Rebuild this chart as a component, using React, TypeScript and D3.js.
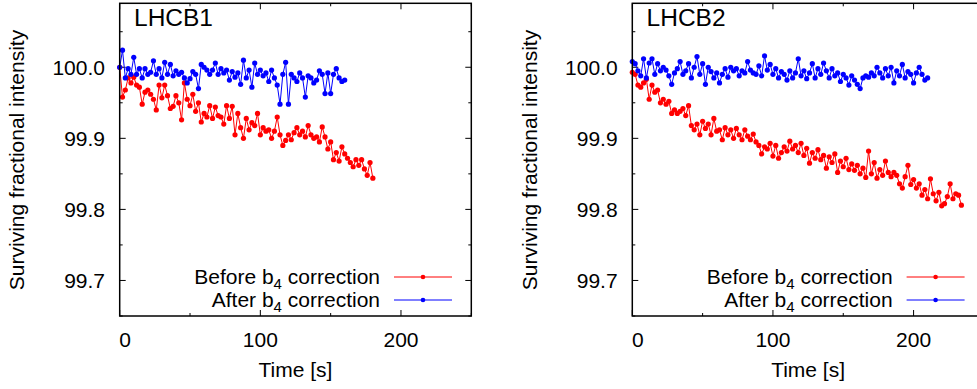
import React from "react";
import * as d3 from "d3";

const SAMPLE_STEP = 2; // seconds between measurements

const lhcb1Before = [
  100.0, 99.958, 99.968, 99.985, 99.978, 99.986, 99.975, 99.972, 99.948, 99.965,
  99.968, 99.962, 99.955, 99.94, 99.975, 99.957, 99.975, 99.96, 99.942, 99.945,
  99.96, 99.95, 99.926, 99.978, 99.955, 99.946, 99.962, 99.938, 99.95, 99.923,
  99.935, 99.93, 99.946, 99.928, 99.944, 99.932, 99.93, 99.92, 99.946, 99.928,
  99.945, 99.905, 99.935, 99.915, 99.9, 99.928, 99.912, 99.922, 99.918, 99.935,
  99.905, 99.915, 99.91, 99.912, 99.9, 99.91, 99.93, 99.905, 99.89, 99.897,
  99.905, 99.898, 99.908, 99.915, 99.905, 99.91, 99.902, 99.918, 99.905, 99.9,
  99.902, 99.895, 99.916, 99.902, 99.885, 99.895, 99.87, 99.88, 99.868, 99.888,
  99.878, 99.872, 99.866, 99.86, 99.87, 99.862, 99.87, 99.857, 99.848, 99.866,
  99.844,
];

const lhcb1After = [
  100.0, 100.024, 99.985, 99.998, 99.99, 100.014, 99.99, 99.998, 99.985, 99.998,
  99.99, 99.993, 100.009, 99.99, 99.998, 99.985, 100.007, 99.99, 100.004, 99.988,
  99.995, 99.99, 99.993, 99.985, 99.978, 99.984, 99.994, 99.99, 99.97, 100.004,
  100.0, 99.996, 99.99, 99.996, 100.006, 99.99, 99.998, 99.992, 99.996, 99.982,
  99.994, 99.986, 99.992, 99.976, 100.01, 99.985, 99.996, 99.972, 100.006, 99.99,
  99.996, 99.988, 99.992, 99.98, 99.996, 99.985, 99.975, 99.948, 99.99, 100.007,
  99.948, 99.99, 99.985, 99.98, 99.992, 99.985, 99.958, 99.988, 99.985, 99.978,
  99.982, 99.995, 99.99, 99.963, 99.992, 99.963, 99.99, 99.998, 99.985, 99.98,
  99.982,
];

const lhcb2Before = [
  99.993, 99.99, 99.975, 99.972, 99.978, 99.983, 99.955, 99.975, 99.965, 99.968,
  99.95, 99.955, 99.948, 99.952, 99.935, 99.94, 99.935, 99.938, 99.942, 99.932,
  99.946, 99.918, 99.912, 99.92, 99.905, 99.924, 99.914, 99.92, 99.905, 99.928,
  99.91, 99.912, 99.898, 99.915, 99.905, 99.912, 99.9, 99.914, 99.905, 99.898,
  99.912, 99.903, 99.898, 99.906, 99.895, 99.89, 99.878, 99.888, 99.885, 99.893,
  99.875, 99.89, 99.872, 99.88, 99.888, 99.882, 99.896, 99.885, 99.89, 99.88,
  99.893, 99.876, 99.886, 99.865, 99.88, 99.872, 99.884, 99.87, 99.876, 99.858,
  99.874, 99.866, 99.878, 99.852, 99.868, 99.86, 99.872, 99.856, 99.864, 99.855,
  99.862, 99.85, 99.858, 99.845, 99.882, 99.85, 99.866, 99.844, 99.856, 99.848,
  99.868, 99.852, 99.846, 99.852, 99.848, 99.836, 99.83, 99.846, 99.862, 99.835,
  99.842, 99.83, 99.836, 99.82, 99.828, 99.815, 99.843, 99.822, 99.812, 99.824,
  99.805, 99.808, 99.818, 99.836, 99.815, 99.822, 99.82, 99.806,
];

const lhcb2After = [
  100.008, 100.005, 99.995, 99.988, 100.012, 99.985, 100.006, 100.012, 99.99, 100.005,
  99.995, 100.0, 99.996, 99.988, 99.976, 99.992, 99.998, 100.008, 99.99, 99.995,
  100.005, 99.985, 100.0, 100.015, 99.99, 100.005, 99.976, 100.0, 99.994, 99.985,
  99.992, 99.978, 99.99, 99.998, 99.986, 100.0, 99.995, 99.998, 99.988, 99.995,
  99.992, 100.008, 99.996, 99.992, 99.99, 100.002, 99.988, 100.016, 99.996, 100.004,
  99.99, 99.998, 99.985, 99.994, 99.99, 99.982, 99.995, 99.985, 99.992, 100.012,
  99.988, 99.995, 99.984, 99.992, 100.005, 99.985, 99.998, 99.99, 100.006, 99.995,
  99.985, 99.998, 99.988, 99.992, 99.98, 99.99, 99.985, 99.975, 99.988, 99.982,
  99.976, 99.97, 99.985, 99.988, 99.986, 99.992, 99.988, 100.0, 99.992, 99.985,
  99.998, 99.988, 100.0, 99.978, 99.995, 99.988, 100.004, 99.985, 99.994, 99.99,
  99.978, 99.992, 100.0, 99.99, 99.982, 99.985,
];

const panelTitles = ["LHCB1", "LHCB2"];
const xMajorTicks = [0, 100, 200];
const xMinorTicks = [50, 150, 250];
const yMajorTicks = [99.7, 99.8, 99.9, 100.0];
const yMinorTicks = [99.65, 99.75, 99.85, 99.95, 100.05];
const legendLabels = ["Before", "After"];
const seriesColors = ["#ff0000", "#0000ff"];

const X_DOMAIN: [number, number] = [0, 250];
const Y_DOMAIN: [number, number] = [99.65, 100.09];

const FONT = "'Liberation Sans', Arial, Helvetica, sans-serif";
const W = 977;
const H = 389;

const FRAME = { left: 119.7, right: 471.3, top: 3.3, bottom: 316 };
const PANEL_SHIFT = 512.6;

const xScale = d3.scaleLinear().domain(X_DOMAIN).range([FRAME.left, FRAME.right]);
const yScale = d3.scaleLinear().domain(Y_DOMAIN).range([FRAME.bottom, FRAME.top]);

type Pt = [number, number];

function toPoints(vals: number[]): Pt[] {
  return vals.map((v, i) => [i * SAMPLE_STEP, v]);
}

function Series({ values, color }: { values: number[]; color: string }) {
  const pts = toPoints(values);
  const line = d3
    .line<Pt>()
    .x((d) => xScale(d[0]))
    .y((d) => yScale(d[1]));
  return (
    <g>
      <path d={line(pts) || ""} fill="none" stroke={color} strokeWidth={1} />
      {pts.map((d, i) => (
        <circle key={i} cx={xScale(d[0])} cy={yScale(d[1])} r={2.6} fill={color} />
      ))}
    </g>
  );
}

function LegendEntry({ label, color, y }: { label: string; color: string; y: number }) {
  const textRight = 380;
  return (
    <g>
      <text x={textRight} y={y + 7} textAnchor="end" fontSize={21} fontFamily={FONT} fill="#000">
        {label} b
        <tspan fontSize={15} dy={5}>4</tspan>
        <tspan dy={-5}> correction</tspan>
      </text>
      <line x1={394} x2={452} y1={y} y2={y} stroke={color} strokeWidth={1} />
      <circle cx={423} cy={y} r={2.3} fill={color} />
    </g>
  );
}

function Panel({
  shift,
  title,
  before,
  after,
}: {
  shift: number;
  title: string;
  before: number[];
  after: number[];
}) {
  const fl = FRAME.left;
  const fr = FRAME.right;
  const ft = FRAME.top;
  const fb = FRAME.bottom;
  const major = 6;
  const minor = 3;
  return (
    <g transform={`translate(${shift},0)`}>
      {yMajorTicks.map((t) => (
        <g key={"ym" + t}>
          <line x1={fl} x2={fl + major} y1={yScale(t)} y2={yScale(t)} stroke="#000" strokeWidth={1} />
          <line x1={fr} x2={fr - major} y1={yScale(t)} y2={yScale(t)} stroke="#000" strokeWidth={1} />
          <text
            x={105}
            y={yScale(t) + 7.5}
            textAnchor="end"
            fontSize={21}
            fontFamily={FONT}
            fill="#000"
          >
            {d3.format(".1f")(t)}
          </text>
        </g>
      ))}
      {yMinorTicks.map((t) => (
        <g key={"yn" + t}>
          <line x1={fl} x2={fl + minor} y1={yScale(t)} y2={yScale(t)} stroke="#000" strokeWidth={1} />
          <line x1={fr} x2={fr - minor} y1={yScale(t)} y2={yScale(t)} stroke="#000" strokeWidth={1} />
        </g>
      ))}
      {xMajorTicks.map((t) => (
        <g key={"xm" + t}>
          <line x1={xScale(t)} x2={xScale(t)} y1={fb} y2={fb - major} stroke="#000" strokeWidth={1} />
          <line x1={xScale(t)} x2={xScale(t)} y1={ft} y2={ft + major} stroke="#000" strokeWidth={1} />
          <text
            x={t === 0 ? xScale(t) + 5.5 : xScale(t)}
            y={347}
            textAnchor="middle"
            fontSize={21}
            fontFamily={FONT}
            fill="#000"
          >
            {t}
          </text>
        </g>
      ))}
      {xMinorTicks.map((t) => (
        <g key={"xn" + t}>
          <line x1={xScale(t)} x2={xScale(t)} y1={fb} y2={fb - minor} stroke="#000" strokeWidth={1} />
          <line x1={xScale(t)} x2={xScale(t)} y1={ft} y2={ft + minor} stroke="#000" strokeWidth={1} />
        </g>
      ))}

      <Series values={before} color={seriesColors[0]} />
      <Series values={after} color={seriesColors[1]} />

      <rect
        x={fl}
        y={ft}
        width={fr - fl}
        height={fb - ft}
        fill="none"
        stroke="#000"
        strokeWidth={1.5}
      />

      <text x={134} y={26} fontSize={24.5} fontFamily={FONT} fill="#000">
        {title}
      </text>

      <LegendEntry label={legendLabels[0]} color={seriesColors[0]} y={277} />
      <LegendEntry label={legendLabels[1]} color={seriesColors[1]} y={300} />

      <text
        x={(fl + fr) / 2}
        y={377}
        textAnchor="middle"
        fontSize={21}
        fontFamily={FONT}
        fill="#000"
      >
        Time [s]
      </text>
      <text
        transform={`translate(24,160) rotate(-90)`}
        textAnchor="middle"
        fontSize={21}
        fontFamily={FONT}
        fill="#000"
      >
        Surviving fractional intensity
      </text>
    </g>
  );
}

export default function App() {
  return (
    <svg
      width={W}
      height={H}
      viewBox={`0 0 ${W} ${H}`}
      style={{ position: "absolute", left: 0, top: 0, background: "#fff" }}
    >
      <rect x={0} y={0} width={W} height={H} fill="#fff" />
      <Panel shift={0} title={panelTitles[0]} before={lhcb1Before} after={lhcb1After} />
      <Panel shift={PANEL_SHIFT} title={panelTitles[1]} before={lhcb2Before} after={lhcb2After} />
    </svg>
  );
}
